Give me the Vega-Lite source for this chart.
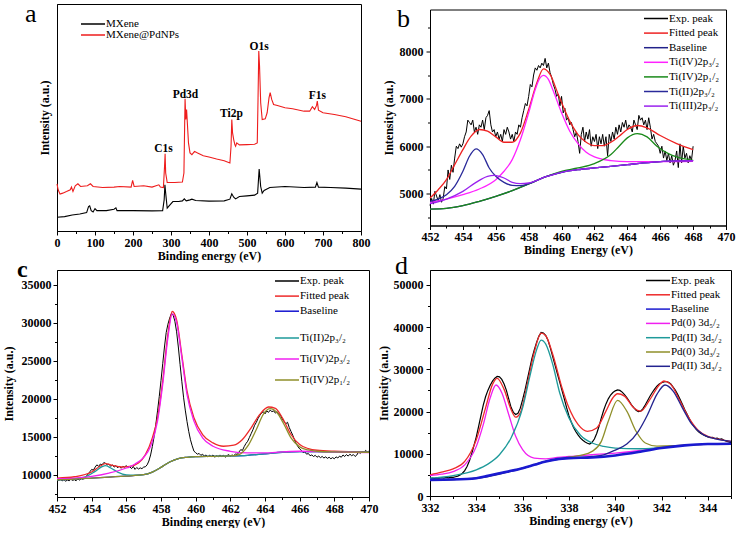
{
"$schema": "https://vega.github.io/schema/vega-lite/v6.json",
"autosize": {"type": "pad"},
"padding": {"left": 1, "top": 0, "right": 0, "bottom": 0},
"background": "white",
"config": {
 "font": "Liberation Serif",
 "view": {"stroke": "black", "strokeWidth": 1},
 "axis": {"labelFont": "Liberation Serif", "labelFontWeight": "bold", "labelFontSize": 12, "labelColor": "black", "titleFont": "Liberation Serif", "titleFontWeight": "bold", "titleFontSize": 12, "titleColor": "black", "domainColor": "black", "domainWidth": 1, "tickColor": "black", "tickWidth": 1, "tickSize": 4, "grid": false, "labelPadding": 2, "titlePadding": 2, "labelFlush": false, "labelOverlap": false},
 "legend": {"labelFont": "Liberation Serif", "labelFontSize": 11, "labelColor": "black", "symbolType": "M-2.4,0H2.4", "symbolSize": 100, "symbolStrokeWidth": 1.5, "labelOffset": 7, "padding": 0, "rowPadding": 2, "orient": "none"}
},
"resolve": {"scale": {"color": "independent", "stroke": "independent"}, "legend": {"color": "independent", "stroke": "independent"}},
"columns": 2,
"bounds": "flush",
"align": "each",
"center": {"row": true, "column": false},
"spacing": {"row": 39, "column": 61},
"datasets": {
 "a": [
  {"s":"MXene","x":0,"y":13.7},{"s":"MXene","x":20,"y":14.3},{"s":"MXene","x":40,"y":16},{"s":"MXene","x":60,"y":17},{"s":"MXene","x":78,"y":18.3},{"s":"MXene","x":83,"y":24.3},{"s":"MXene","x":86,"y":25},{"s":"MXene","x":90,"y":20.3},{"s":"MXene","x":95,"y":19},{"s":"MXene","x":100,"y":22.3},{"s":"MXene","x":105,"y":20.3},{"s":"MXene","x":130,"y":20.3},{"s":"MXene","x":150,"y":21.7},{"s":"MXene","x":155,"y":23},{"s":"MXene","x":158,"y":20.3},{"s":"MXene","x":200,"y":20.3},{"s":"MXene","x":250,"y":20},{"s":"MXene","x":278,"y":20.3},{"s":"MXene","x":282,"y":31},{"s":"MXene","x":284,"y":46},{"s":"MXene","x":286,"y":37.7},{"s":"MXene","x":290,"y":22.7},{"s":"MXene","x":295,"y":25},{"s":"MXene","x":305,"y":29.3},{"s":"MXene","x":320,"y":29.3},{"s":"MXene","x":330,"y":30},{"s":"MXene","x":335,"y":32},{"s":"MXene","x":340,"y":30},{"s":"MXene","x":350,"y":31},{"s":"MXene","x":355,"y":31.7},{"s":"MXene","x":365,"y":30.3},{"s":"MXene","x":400,"y":29.7},{"s":"MXene","x":440,"y":30},{"s":"MXene","x":455,"y":31.7},{"s":"MXene","x":460,"y":37},{"s":"MXene","x":465,"y":33.7},{"s":"MXene","x":470,"y":32},{"s":"MXene","x":480,"y":34.3},{"s":"MXene","x":500,"y":35},{"s":"MXene","x":520,"y":35.7},{"s":"MXene","x":528,"y":37.7},{"s":"MXene","x":532,"y":61.7},{"s":"MXene","x":536,"y":44.3},{"s":"MXene","x":540,"y":37.7},{"s":"MXene","x":545,"y":40.3},{"s":"MXene","x":560,"y":43.3},{"s":"MXene","x":600,"y":44.3},{"s":"MXene","x":650,"y":43.3},{"s":"MXene","x":680,"y":43.7},{"s":"MXene","x":684,"y":48.3},{"s":"MXene","x":688,"y":43.7},{"s":"MXene","x":720,"y":43.3},{"s":"MXene","x":760,"y":42.7},{"s":"MXene","x":800,"y":41.7},
  {"s":"MXene@PdNPs","x":0,"y":47},{"s":"MXene@PdNPs","x":3,"y":41},{"s":"MXene@PdNPs","x":8,"y":36.7},{"s":"MXene@PdNPs","x":15,"y":37.7},{"s":"MXene@PdNPs","x":25,"y":39.3},{"s":"MXene@PdNPs","x":35,"y":41},{"s":"MXene@PdNPs","x":38,"y":43.7},{"s":"MXene@PdNPs","x":42,"y":39.3},{"s":"MXene@PdNPs","x":48,"y":45},{"s":"MXene@PdNPs","x":55,"y":47},{"s":"MXene@PdNPs","x":62,"y":44.3},{"s":"MXene@PdNPs","x":80,"y":45},{"s":"MXene@PdNPs","x":88,"y":47},{"s":"MXene@PdNPs","x":95,"y":44.3},{"s":"MXene@PdNPs","x":120,"y":43.3},{"s":"MXene@PdNPs","x":150,"y":43.7},{"s":"MXene@PdNPs","x":165,"y":44.3},{"s":"MXene@PdNPs","x":195,"y":43.7},{"s":"MXene@PdNPs","x":199,"y":50.3},{"s":"MXene@PdNPs","x":203,"y":44.3},{"s":"MXene@PdNPs","x":228,"y":45},{"s":"MXene@PdNPs","x":250,"y":43.7},{"s":"MXene@PdNPs","x":268,"y":46},{"s":"MXene@PdNPs","x":272,"y":43.7},{"s":"MXene@PdNPs","x":280,"y":43.3},{"s":"MXene@PdNPs","x":283,"y":64.3},{"s":"MXene@PdNPs","x":284.5,"y":77},{"s":"MXene@PdNPs","x":286,"y":57.7},{"s":"MXene@PdNPs","x":290,"y":48.3},{"s":"MXene@PdNPs","x":310,"y":48.3},{"s":"MXene@PdNPs","x":330,"y":48.7},{"s":"MXene@PdNPs","x":334,"y":57.7},{"s":"MXene@PdNPs","x":337,"y":131.7},{"s":"MXene@PdNPs","x":339,"y":111},{"s":"MXene@PdNPs","x":341,"y":121},{"s":"MXene@PdNPs","x":343,"y":107.7},{"s":"MXene@PdNPs","x":346,"y":87.7},{"s":"MXene@PdNPs","x":350,"y":77.7},{"s":"MXene@PdNPs","x":355,"y":76},{"s":"MXene@PdNPs","x":362,"y":79.3},{"s":"MXene@PdNPs","x":370,"y":77.7},{"s":"MXene@PdNPs","x":385,"y":75},{"s":"MXene@PdNPs","x":400,"y":73.7},{"s":"MXene@PdNPs","x":420,"y":71.7},{"s":"MXene@PdNPs","x":440,"y":70},{"s":"MXene@PdNPs","x":455,"y":67.7},{"s":"MXene@PdNPs","x":458,"y":84.3},{"s":"MXene@PdNPs","x":460,"y":111},{"s":"MXene@PdNPs","x":462,"y":97.7},{"s":"MXene@PdNPs","x":465,"y":91},{"s":"MXene@PdNPs","x":468,"y":86},{"s":"MXene@PdNPs","x":470,"y":84.3},{"s":"MXene@PdNPs","x":473,"y":87.7},{"s":"MXene@PdNPs","x":480,"y":85.7},{"s":"MXene@PdNPs","x":500,"y":86},{"s":"MXene@PdNPs","x":520,"y":86.3},{"s":"MXene@PdNPs","x":527,"y":87.7},{"s":"MXene@PdNPs","x":529,"y":131},{"s":"MXene@PdNPs","x":531,"y":179.3},{"s":"MXene@PdNPs","x":533,"y":164.3},{"s":"MXene@PdNPs","x":536,"y":127.7},{"s":"MXene@PdNPs","x":540,"y":111},{"s":"MXene@PdNPs","x":548,"y":111.7},{"s":"MXene@PdNPs","x":553,"y":117.7},{"s":"MXene@PdNPs","x":558,"y":132.7},{"s":"MXene@PdNPs","x":561,"y":137.7},{"s":"MXene@PdNPs","x":565,"y":131},{"s":"MXene@PdNPs","x":570,"y":126},{"s":"MXene@PdNPs","x":580,"y":125},{"s":"MXene@PdNPs","x":600,"y":122.7},{"s":"MXene@PdNPs","x":620,"y":121.7},{"s":"MXene@PdNPs","x":650,"y":119.3},{"s":"MXene@PdNPs","x":665,"y":119.3},{"s":"MXene@PdNPs","x":672,"y":123.7},{"s":"MXene@PdNPs","x":678,"y":121},{"s":"MXene@PdNPs","x":683,"y":125},{"s":"MXene@PdNPs","x":685,"y":129.3},{"s":"MXene@PdNPs","x":688,"y":120.3},{"s":"MXene@PdNPs","x":700,"y":117.7},{"s":"MXene@PdNPs","x":730,"y":116},{"s":"MXene@PdNPs","x":760,"y":113.7},{"s":"MXene@PdNPs","x":800,"y":109.3}
 ],
 "alab": [
  {"t":"C1s","x":280,"y":79},{"t":"Pd3d","x":338,"y":132.7},{"t":"Ti2p","x":459,"y":113.7},{"t":"O1s","x":532,"y":180},{"t":"F1s","x":685,"y":131}
 ],
 "bE": [
  {"x":452.0,"y":4750},{"x":452.1,"y":4900},{"x":452.2,"y":4780},{"x":452.3,"y":5050},{"x":452.4,"y":4950},{"x":452.5,"y":4850},{"x":452.6,"y":4980},{"x":452.7,"y":4820},{"x":452.8,"y":4900},{"x":452.9,"y":5150},
  {"x":453.0,"y":5100},{"x":453.1,"y":5500},{"x":453.2,"y":5300},{"x":453.3,"y":5600},{"x":453.4,"y":5450},{"x":453.5,"y":5750},{"x":453.6,"y":6000},{"x":453.7,"y":5950},{"x":453.8,"y":6050},{"x":453.9,"y":5980},
  {"x":454.0,"y":6050},{"x":454.1,"y":6200},{"x":454.2,"y":6300},{"x":454.3,"y":6550},{"x":454.4,"y":6500},{"x":454.5,"y":6450},{"x":454.6,"y":6550},{"x":454.7,"y":6300},{"x":454.8,"y":6400},{"x":454.9,"y":6250},
  {"x":455.0,"y":6450},{"x":455.1,"y":6400},{"x":455.2,"y":6550},{"x":455.3,"y":6350},{"x":455.4,"y":6600},{"x":455.5,"y":6650},{"x":455.6,"y":6750},{"x":455.7,"y":6450},{"x":455.8,"y":6300},{"x":455.9,"y":6350},
  {"x":456.0,"y":6200},{"x":456.1,"y":6300},{"x":456.2,"y":6150},{"x":456.3,"y":6250},{"x":456.4,"y":6100},{"x":456.5,"y":6350},{"x":456.6,"y":6250},{"x":456.7,"y":6400},{"x":456.8,"y":6300},{"x":456.9,"y":6150},
  {"x":457.0,"y":6250},{"x":457.1,"y":6100},{"x":457.2,"y":6300},{"x":457.3,"y":6250},{"x":457.4,"y":6450},{"x":457.5,"y":6400},{"x":457.6,"y":6600},{"x":457.7,"y":6750},{"x":457.8,"y":6900},{"x":457.9,"y":6850},
  {"x":458.0,"y":7050},{"x":458.1,"y":7300},{"x":458.2,"y":7250},{"x":458.3,"y":7500},{"x":458.4,"y":7650},{"x":458.5,"y":7600},{"x":458.6,"y":7700},{"x":458.7,"y":7650},{"x":458.8,"y":7750},{"x":458.9,"y":7700},
  {"x":459.0,"y":7850},{"x":459.1,"y":7650},{"x":459.2,"y":7750},{"x":459.3,"y":7550},{"x":459.4,"y":7450},{"x":459.5,"y":7300},{"x":459.6,"y":7200},{"x":459.7,"y":7050},{"x":459.8,"y":7100},{"x":459.9,"y":6850},
  {"x":460.0,"y":7050},{"x":460.1,"y":6700},{"x":460.2,"y":6800},{"x":460.3,"y":6550},{"x":460.4,"y":6600},{"x":460.5,"y":6450},{"x":460.6,"y":6500},{"x":460.7,"y":6350},{"x":460.8,"y":6200},{"x":460.9,"y":6300},
  {"x":461.0,"y":6100},{"x":461.1,"y":5850},{"x":461.2,"y":6250},{"x":461.3,"y":6400},{"x":461.4,"y":6100},{"x":461.5,"y":6300},{"x":461.6,"y":6150},{"x":461.7,"y":6350},{"x":461.8,"y":6000},{"x":461.9,"y":6200},
  {"x":462.0,"y":6100},{"x":462.1,"y":6250},{"x":462.2,"y":5950},{"x":462.3,"y":6200},{"x":462.4,"y":6050},{"x":462.5,"y":6250},{"x":462.6,"y":6000},{"x":462.7,"y":6200},{"x":462.8,"y":5800},{"x":462.9,"y":6250},
  {"x":463.0,"y":6100},{"x":463.1,"y":6300},{"x":463.2,"y":6150},{"x":463.3,"y":6400},{"x":463.4,"y":6250},{"x":463.5,"y":6450},{"x":463.6,"y":6300},{"x":463.7,"y":6500},{"x":463.8,"y":6400},{"x":463.9,"y":6550},
  {"x":464.0,"y":6350},{"x":464.1,"y":6450},{"x":464.2,"y":6400},{"x":464.3,"y":6300},{"x":464.4,"y":6550},{"x":464.5,"y":6450},{"x":464.6,"y":6350},{"x":464.7,"y":6650},{"x":464.8,"y":6550},{"x":464.9,"y":6600},
  {"x":465.0,"y":6450},{"x":465.1,"y":6550},{"x":465.2,"y":6350},{"x":465.3,"y":6600},{"x":465.4,"y":6400},{"x":465.5,"y":6150},{"x":465.6,"y":6250},{"x":465.7,"y":6100},{"x":465.8,"y":6050},{"x":465.9,"y":6000},
  {"x":466.0,"y":5850},{"x":466.1,"y":6000},{"x":466.2,"y":5750},{"x":466.3,"y":5900},{"x":466.4,"y":5700},{"x":466.5,"y":5850},{"x":466.6,"y":5650},{"x":466.7,"y":5800},{"x":466.8,"y":5600},{"x":466.9,"y":5700},
  {"x":467.0,"y":5900},{"x":467.1,"y":5550},{"x":467.2,"y":6050},{"x":467.3,"y":5650},{"x":467.4,"y":6000},{"x":467.5,"y":5750},{"x":467.6,"y":5850},{"x":467.7,"y":5650},{"x":467.8,"y":5800},{"x":467.9,"y":5700},
  {"x":468.0,"y":6000}
 ],
 "bF": [
  {"s":"Fitted peak","x":452,"y":4908},{"s":"Fitted peak","x":452.5,"y":5084},{"s":"Fitted peak","x":453,"y":5296},{"s":"Fitted peak","x":453.5,"y":5612},{"s":"Fitted peak","x":454,"y":5929},{"s":"Fitted peak","x":454.5,"y":6211},{"s":"Fitted peak","x":455,"y":6352},{"s":"Fitted peak","x":455.5,"y":6316},{"s":"Fitted peak","x":456,"y":6197},{"s":"Fitted peak","x":456.5,"y":6084},{"s":"Fitted peak","x":457,"y":6084},{"s":"Fitted peak","x":457.5,"y":6281},{"s":"Fitted peak","x":458,"y":6774},{"s":"Fitted peak","x":458.5,"y":7337},{"s":"Fitted peak","x":458.9,"y":7630},{"s":"Fitted peak","x":459.3,"y":7514},{"s":"Fitted peak","x":459.8,"y":7091},{"s":"Fitted peak","x":460.5,"y":6528},{"s":"Fitted peak","x":461,"y":6246},{"s":"Fitted peak","x":461.5,"y":6084},{"s":"Fitted peak","x":462,"y":6014},{"s":"Fitted peak","x":462.5,"y":6014},{"s":"Fitted peak","x":463,"y":6084},{"s":"Fitted peak","x":463.5,"y":6211},{"s":"Fitted peak","x":464,"y":6352},{"s":"Fitted peak","x":464.6,"y":6436},{"s":"Fitted peak","x":465.2,"y":6387},{"s":"Fitted peak","x":466,"y":6225},{"s":"Fitted peak","x":467,"y":6056},{"s":"Fitted peak","x":468,"y":5929},
  {"s":"Baseline","x":452,"y":4676},{"s":"Baseline","x":453,"y":4690},{"s":"Baseline","x":454,"y":4747},{"s":"Baseline","x":455,"y":4838},{"s":"Baseline","x":456,"y":4944},{"s":"Baseline","x":457,"y":5063},{"s":"Baseline","x":458,"y":5204},{"s":"Baseline","x":459,"y":5352},{"s":"Baseline","x":460,"y":5451},{"s":"Baseline","x":461,"y":5507},{"s":"Baseline","x":462,"y":5542},{"s":"Baseline","x":463,"y":5577},{"s":"Baseline","x":464,"y":5612},{"s":"Baseline","x":465,"y":5648},{"s":"Baseline","x":466,"y":5676},{"s":"Baseline","x":467,"y":5690},{"s":"Baseline","x":468,"y":5697},
  {"s":"Ti(IV)2p₃/₂","x":452,"y":4817},{"s":"Ti(IV)2p₃/₂","x":453,"y":4887},{"s":"Ti(IV)2p₃/₂","x":454,"y":4979},{"s":"Ti(IV)2p₃/₂","x":455,"y":5099},{"s":"Ti(IV)2p₃/₂","x":456,"y":5296},{"s":"Ti(IV)2p₃/₂","x":456.5,"y":5472},{"s":"Ti(IV)2p₃/₂","x":457,"y":5718},{"s":"Ti(IV)2p₃/₂","x":457.5,"y":6140},{"s":"Ti(IV)2p₃/₂","x":458,"y":6704},{"s":"Ti(IV)2p₃/₂","x":458.4,"y":7196},{"s":"Ti(IV)2p₃/₂","x":458.7,"y":7443},{"s":"Ti(IV)2p₃/₂","x":458.9,"y":7492},{"s":"Ti(IV)2p₃/₂","x":459.2,"y":7408},{"s":"Ti(IV)2p₃/₂","x":459.5,"y":7161},{"s":"Ti(IV)2p₃/₂","x":460,"y":6704},{"s":"Ti(IV)2p₃/₂","x":460.5,"y":6316},{"s":"Ti(IV)2p₃/₂","x":461,"y":6056},{"s":"Ti(IV)2p₃/₂","x":461.5,"y":5873},{"s":"Ti(IV)2p₃/₂","x":462,"y":5774},{"s":"Ti(IV)2p₃/₂","x":463,"y":5697},{"s":"Ti(IV)2p₃/₂","x":464,"y":5676},{"s":"Ti(IV)2p₃/₂","x":466,"y":5676},{"s":"Ti(IV)2p₃/₂","x":468,"y":5683},
  {"s":"Ti(IV)2p₁/₂","x":452,"y":4676},{"s":"Ti(IV)2p₁/₂","x":453,"y":4690},{"s":"Ti(IV)2p₁/₂","x":454,"y":4747},{"s":"Ti(IV)2p₁/₂","x":455,"y":4838},{"s":"Ti(IV)2p₁/₂","x":456,"y":4944},{"s":"Ti(IV)2p₁/₂","x":457,"y":5063},{"s":"Ti(IV)2p₁/₂","x":458,"y":5204},{"s":"Ti(IV)2p₁/₂","x":459,"y":5352},{"s":"Ti(IV)2p₁/₂","x":460,"y":5472},{"s":"Ti(IV)2p₁/₂","x":461,"y":5542},{"s":"Ti(IV)2p₁/₂","x":462,"y":5634},{"s":"Ti(IV)2p₁/₂","x":463,"y":5824},{"s":"Ti(IV)2p₁/₂","x":463.5,"y":6000},{"s":"Ti(IV)2p₁/₂","x":464,"y":6176},{"s":"Ti(IV)2p₁/₂","x":464.6,"y":6267},{"s":"Ti(IV)2p₁/₂","x":465.2,"y":6196},{"s":"Ti(IV)2p₁/₂","x":465.8,"y":6000},{"s":"Ti(IV)2p₁/₂","x":466.5,"y":5845},{"s":"Ti(IV)2p₁/₂","x":467,"y":5774},{"s":"Ti(IV)2p₁/₂","x":468,"y":5704},
  {"s":"Ti(II)2p₃/₂","x":452,"y":4838},{"s":"Ti(II)2p₃/₂","x":452.5,"y":4887},{"s":"Ti(II)2p₃/₂","x":453,"y":4979},{"s":"Ti(II)2p₃/₂","x":453.5,"y":5155},{"s":"Ti(II)2p₃/₂","x":454,"y":5472},{"s":"Ti(II)2p₃/₂","x":454.4,"y":5788},{"s":"Ti(II)2p₃/₂","x":454.8,"y":5943},{"s":"Ti(II)2p₃/₂","x":455.2,"y":5824},{"s":"Ti(II)2p₃/₂","x":455.6,"y":5542},{"s":"Ti(II)2p₃/₂","x":456,"y":5366},{"s":"Ti(II)2p₃/₂","x":456.5,"y":5239},{"s":"Ti(II)2p₃/₂","x":457,"y":5176},{"s":"Ti(II)2p₃/₂","x":457.5,"y":5169},{"s":"Ti(II)2p₃/₂","x":458,"y":5211},{"s":"Ti(II)2p₃/₂","x":459,"y":5352},{"s":"Ti(II)2p₃/₂","x":460,"y":5451},{"s":"Ti(II)2p₃/₂","x":461,"y":5507},{"s":"Ti(II)2p₃/₂","x":462,"y":5542},{"s":"Ti(II)2p₃/₂","x":463,"y":5577},{"s":"Ti(II)2p₃/₂","x":464,"y":5612},{"s":"Ti(II)2p₃/₂","x":465,"y":5648},{"s":"Ti(II)2p₃/₂","x":466,"y":5676},{"s":"Ti(II)2p₃/₂","x":467,"y":5690},{"s":"Ti(II)2p₃/₂","x":468,"y":5697},
  {"s":"Ti(III)2p₃/₂","x":452,"y":4789},{"s":"Ti(III)2p₃/₂","x":453,"y":4887},{"s":"Ti(III)2p₃/₂","x":454,"y":5049},{"s":"Ti(III)2p₃/₂","x":454.8,"y":5239},{"s":"Ti(III)2p₃/₂","x":455.5,"y":5366},{"s":"Ti(III)2p₃/₂","x":455.9,"y":5387},{"s":"Ti(III)2p₃/₂","x":456.5,"y":5331},{"s":"Ti(III)2p₃/₂","x":457,"y":5239},{"s":"Ti(III)2p₃/₂","x":457.5,"y":5211},{"s":"Ti(III)2p₃/₂","x":458,"y":5225},{"s":"Ti(III)2p₃/₂","x":459,"y":5352},{"s":"Ti(III)2p₃/₂","x":460,"y":5451},{"s":"Ti(III)2p₃/₂","x":461,"y":5507},{"s":"Ti(III)2p₃/₂","x":462,"y":5542},{"s":"Ti(III)2p₃/₂","x":463,"y":5577},{"s":"Ti(III)2p₃/₂","x":464,"y":5612},{"s":"Ti(III)2p₃/₂","x":465,"y":5648},{"s":"Ti(III)2p₃/₂","x":466,"y":5676},{"s":"Ti(III)2p₃/₂","x":467,"y":5690},{"s":"Ti(III)2p₃/₂","x":468,"y":5697}
 ],
 "cE": [
  {"x":452.0,"y":9300},{"x":452.1,"y":9250},{"x":452.2,"y":9400},{"x":452.3,"y":9200},{"x":452.4,"y":9350},{"x":452.5,"y":9150},{"x":452.6,"y":9300},{"x":452.7,"y":9200},{"x":452.8,"y":9400},{"x":452.9,"y":9250},
  {"x":453.0,"y":9350},{"x":453.1,"y":9200},{"x":453.2,"y":9450},{"x":453.3,"y":9300},{"x":453.4,"y":9500},{"x":453.5,"y":9400},{"x":453.6,"y":9600},{"x":453.7,"y":9800},{"x":453.8,"y":10100},{"x":453.9,"y":10400},
  {"x":454.0,"y":10700},{"x":454.1,"y":10600},{"x":454.2,"y":11000},{"x":454.3,"y":11300},{"x":454.4,"y":11100},{"x":454.5,"y":11400},{"x":454.6,"y":11300},{"x":454.7,"y":11600},{"x":454.8,"y":11500},{"x":454.9,"y":11300},
  {"x":455.0,"y":11400},{"x":455.1,"y":11100},{"x":455.2,"y":11300},{"x":455.3,"y":11000},{"x":455.4,"y":11200},{"x":455.5,"y":10900},{"x":455.6,"y":11150},{"x":455.7,"y":10850},{"x":455.8,"y":11100},{"x":455.9,"y":11000},
  {"x":456.0,"y":11200},{"x":456.1,"y":10900},{"x":456.2,"y":11050},{"x":456.3,"y":10800},{"x":456.4,"y":11100},{"x":456.5,"y":10700},{"x":456.6,"y":10950},{"x":456.7,"y":10750},{"x":456.8,"y":10900},{"x":456.9,"y":10800},
  {"x":457.0,"y":11000},{"x":457.1,"y":11050},{"x":457.2,"y":11300},{"x":457.3,"y":11800},{"x":457.4,"y":12600},{"x":457.5,"y":13700},{"x":457.6,"y":15000},{"x":457.7,"y":16600},{"x":457.8,"y":18400},{"x":457.9,"y":20300},
  {"x":458.0,"y":22400},{"x":458.1,"y":24600},{"x":458.2,"y":26800},{"x":458.3,"y":28700},{"x":458.4,"y":29800},{"x":458.5,"y":30600},{"x":458.6,"y":31200},{"x":458.7,"y":31000},{"x":458.8,"y":30200},{"x":458.9,"y":28800},
  {"x":459.0,"y":26800},{"x":459.1,"y":24500},{"x":459.2,"y":22300},{"x":459.3,"y":20200},{"x":459.4,"y":18500},{"x":459.5,"y":17000},{"x":459.6,"y":15700},{"x":459.7,"y":14600},{"x":459.8,"y":13800},{"x":459.9,"y":13100},
  {"x":460.0,"y":12900},{"x":460.1,"y":12700},{"x":460.2,"y":12800},{"x":460.3,"y":12550},{"x":460.4,"y":12700},{"x":460.5,"y":12450},{"x":460.6,"y":12600},{"x":460.7,"y":12350},{"x":460.8,"y":12550},{"x":460.9,"y":12400},
  {"x":461.0,"y":12600},{"x":461.1,"y":12300},{"x":461.2,"y":12500},{"x":461.3,"y":12350},{"x":461.4,"y":12600},{"x":461.5,"y":12400},{"x":461.6,"y":12550},{"x":461.7,"y":12300},{"x":461.8,"y":12500},{"x":461.9,"y":12650},
  {"x":462.0,"y":12450},{"x":462.1,"y":12600},{"x":462.2,"y":12500},{"x":462.3,"y":12750},{"x":462.4,"y":12650},{"x":462.5,"y":13000},{"x":462.6,"y":13300},{"x":462.7,"y":13200},{"x":462.8,"y":13700},{"x":462.9,"y":14100},
  {"x":463.0,"y":14400},{"x":463.1,"y":14900},{"x":463.2,"y":15400},{"x":463.3,"y":15900},{"x":463.4,"y":16500},{"x":463.5,"y":16900},{"x":463.6,"y":17400},{"x":463.7,"y":17800},{"x":463.8,"y":18100},{"x":463.9,"y":18300},
  {"x":464.0,"y":18000},{"x":464.1,"y":18400},{"x":464.2,"y":18200},{"x":464.3,"y":18500},{"x":464.4,"y":18300},{"x":464.5,"y":18400},{"x":464.6,"y":18100},{"x":464.7,"y":18300},{"x":464.8,"y":17900},{"x":464.9,"y":17800},
  {"x":465.0,"y":17300},{"x":465.1,"y":17000},{"x":465.2,"y":16700},{"x":465.3,"y":16900},{"x":465.4,"y":16200},{"x":465.5,"y":15700},{"x":465.6,"y":15200},{"x":465.7,"y":14600},{"x":465.8,"y":14100},{"x":465.9,"y":13700},
  {"x":466.0,"y":13400},{"x":466.1,"y":13200},{"x":466.2,"y":12900},{"x":466.3,"y":13000},{"x":466.4,"y":12700},{"x":466.5,"y":12800},{"x":466.6,"y":12500},{"x":466.7,"y":12600},{"x":466.8,"y":12400},{"x":466.9,"y":12550},
  {"x":467.0,"y":12300},{"x":467.1,"y":12450},{"x":467.2,"y":12250},{"x":467.3,"y":12400},{"x":467.4,"y":12200},{"x":467.5,"y":12350},{"x":467.6,"y":12150},{"x":467.7,"y":12300},{"x":467.8,"y":12100},{"x":467.9,"y":12250},
  {"x":468.0,"y":12100},{"x":468.1,"y":12350},{"x":468.2,"y":12200},{"x":468.3,"y":12450},{"x":468.4,"y":12300},{"x":468.5,"y":12600},{"x":468.6,"y":12400},{"x":468.7,"y":12650},{"x":468.8,"y":12450},{"x":468.9,"y":12700},
  {"x":469.0,"y":12500},{"x":469.1,"y":12650},{"x":469.2,"y":12400},{"x":469.3,"y":12600},{"x":469.4,"y":13000},{"x":469.5,"y":12800},{"x":469.6,"y":13100},{"x":469.7,"y":12900},{"x":469.8,"y":13200},{"x":469.9,"y":13000},
  {"x":470.0,"y":13100}
 ],
 "cF": [
  {"s":"Fitted peak","x":452,"y":9559},{"s":"Fitted peak","x":453,"y":9735},{"s":"Fitted peak","x":454,"y":10353},{"s":"Fitted peak","x":454.5,"y":11146},{"s":"Fitted peak","x":454.8,"y":11455},{"s":"Fitted peak","x":455.2,"y":11234},{"s":"Fitted peak","x":455.7,"y":11014},{"s":"Fitted peak","x":456.2,"y":11102},{"s":"Fitted peak","x":456.7,"y":11543},{"s":"Fitted peak","x":457.1,"y":12645},{"s":"Fitted peak","x":457.5,"y":14850},{"s":"Fitted peak","x":457.8,"y":17495},{"s":"Fitted peak","x":458.1,"y":22345},{"s":"Fitted peak","x":458.4,"y":28518},{"s":"Fitted peak","x":458.65,"y":31472},{"s":"Fitted peak","x":458.9,"y":30370},{"s":"Fitted peak","x":459.2,"y":25784},{"s":"Fitted peak","x":459.5,"y":21022},{"s":"Fitted peak","x":459.9,"y":17495},{"s":"Fitted peak","x":460.4,"y":15291},{"s":"Fitted peak","x":461,"y":14188},{"s":"Fitted peak","x":461.6,"y":13748},{"s":"Fitted peak","x":462.2,"y":13880},{"s":"Fitted peak","x":462.7,"y":14630},{"s":"Fitted peak","x":463.2,"y":16173},{"s":"Fitted peak","x":463.7,"y":17936},{"s":"Fitted peak","x":464.2,"y":18906},{"s":"Fitted peak","x":464.6,"y":18730},{"s":"Fitted peak","x":465,"y":17495},{"s":"Fitted peak","x":465.5,"y":15291},{"s":"Fitted peak","x":466,"y":13968},{"s":"Fitted peak","x":466.5,"y":13439},{"s":"Fitted peak","x":467,"y":13219},{"s":"Fitted peak","x":468,"y":13086},{"s":"Fitted peak","x":470,"y":12998},
  {"s":"Baseline","x":452,"y":9339},{"s":"Baseline","x":453,"y":9427},{"s":"Baseline","x":454,"y":9559},{"s":"Baseline","x":455,"y":9691},{"s":"Baseline","x":456,"y":9824},{"s":"Baseline","x":457,"y":10000},{"s":"Baseline","x":457.5,"y":10353},{"s":"Baseline","x":458,"y":10970},{"s":"Baseline","x":458.5,"y":11675},{"s":"Baseline","x":459,"y":12116},{"s":"Baseline","x":459.5,"y":12293},{"s":"Baseline","x":460,"y":12381},{"s":"Baseline","x":461,"y":12425},{"s":"Baseline","x":462,"y":12469},{"s":"Baseline","x":463,"y":12557},{"s":"Baseline","x":464,"y":12734},{"s":"Baseline","x":465,"y":12954},{"s":"Baseline","x":466,"y":13042},{"s":"Baseline","x":467,"y":13042},{"s":"Baseline","x":468,"y":12998},{"s":"Baseline","x":470,"y":12954}
 ],
 "cC": [
  {"s":"Ti(II)2p₃/₂","x":452,"y":9339},{"s":"Ti(II)2p₃/₂","x":453,"y":9471},{"s":"Ti(II)2p₃/₂","x":453.7,"y":9780},{"s":"Ti(II)2p₃/₂","x":454.2,"y":10441},{"s":"Ti(II)2p₃/₂","x":454.6,"y":11058},{"s":"Ti(II)2p₃/₂","x":454.8,"y":11190},{"s":"Ti(II)2p₃/₂","x":455.1,"y":10882},{"s":"Ti(II)2p₃/₂","x":455.5,"y":10353},{"s":"Ti(II)2p₃/₂","x":456,"y":9980},{"s":"Ti(II)2p₃/₂","x":456.5,"y":9930},{"s":"Ti(II)2p₃/₂","x":457,"y":10010},{"s":"Ti(II)2p₃/₂","x":457.5,"y":10353},{"s":"Ti(II)2p₃/₂","x":458,"y":10970},{"s":"Ti(II)2p₃/₂","x":458.5,"y":11675},{"s":"Ti(II)2p₃/₂","x":459,"y":12116},{"s":"Ti(II)2p₃/₂","x":459.5,"y":12293},{"s":"Ti(II)2p₃/₂","x":460,"y":12381},{"s":"Ti(II)2p₃/₂","x":461,"y":12425},{"s":"Ti(II)2p₃/₂","x":462,"y":12469},{"s":"Ti(II)2p₃/₂","x":463,"y":12557},{"s":"Ti(II)2p₃/₂","x":464,"y":12734},{"s":"Ti(II)2p₃/₂","x":465,"y":12954},{"s":"Ti(II)2p₃/₂","x":466,"y":13042},{"s":"Ti(II)2p₃/₂","x":467,"y":13042},{"s":"Ti(II)2p₃/₂","x":468,"y":12998},{"s":"Ti(II)2p₃/₂","x":470,"y":12954},
  {"s":"Ti(IV)2p₃/₂","x":452,"y":9471},{"s":"Ti(IV)2p₃/₂","x":453,"y":9559},{"s":"Ti(IV)2p₃/₂","x":454,"y":9780},{"s":"Ti(IV)2p₃/₂","x":455,"y":10220},{"s":"Ti(IV)2p₃/₂","x":456,"y":10882},{"s":"Ti(IV)2p₃/₂","x":456.5,"y":11411},{"s":"Ti(IV)2p₃/₂","x":457,"y":12293},{"s":"Ti(IV)2p₃/₂","x":457.4,"y":13748},{"s":"Ti(IV)2p₃/₂","x":457.8,"y":17054},{"s":"Ti(IV)2p₃/₂","x":458.1,"y":21904},{"s":"Ti(IV)2p₃/₂","x":458.4,"y":28077},{"s":"Ti(IV)2p₃/₂","x":458.65,"y":31163},{"s":"Ti(IV)2p₃/₂","x":458.9,"y":30061},{"s":"Ti(IV)2p₃/₂","x":459.2,"y":25431},{"s":"Ti(IV)2p₃/₂","x":459.5,"y":20582},{"s":"Ti(IV)2p₃/₂","x":459.9,"y":17054},{"s":"Ti(IV)2p₃/₂","x":460.4,"y":14850},{"s":"Ti(IV)2p₃/₂","x":461,"y":13748},{"s":"Ti(IV)2p₃/₂","x":462,"y":13086},{"s":"Ti(IV)2p₃/₂","x":463,"y":12866},{"s":"Ti(IV)2p₃/₂","x":464,"y":12866},{"s":"Ti(IV)2p₃/₂","x":465,"y":12998},{"s":"Ti(IV)2p₃/₂","x":466,"y":13086},{"s":"Ti(IV)2p₃/₂","x":468,"y":12998},{"s":"Ti(IV)2p₃/₂","x":470,"y":12910},
  {"s":"Ti(IV)2p₁/₂","x":452,"y":9339},{"s":"Ti(IV)2p₁/₂","x":453,"y":9427},{"s":"Ti(IV)2p₁/₂","x":454,"y":9559},{"s":"Ti(IV)2p₁/₂","x":455,"y":9691},{"s":"Ti(IV)2p₁/₂","x":456,"y":9824},{"s":"Ti(IV)2p₁/₂","x":457,"y":10000},{"s":"Ti(IV)2p₁/₂","x":457.5,"y":10353},{"s":"Ti(IV)2p₁/₂","x":458,"y":10970},{"s":"Ti(IV)2p₁/₂","x":458.5,"y":11675},{"s":"Ti(IV)2p₁/₂","x":459,"y":12116},{"s":"Ti(IV)2p₁/₂","x":459.5,"y":12293},{"s":"Ti(IV)2p₁/₂","x":460,"y":12381},{"s":"Ti(IV)2p₁/₂","x":461,"y":12425},{"s":"Ti(IV)2p₁/₂","x":462,"y":12469},{"s":"Ti(IV)2p₁/₂","x":462.5,"y":12645},{"s":"Ti(IV)2p₁/₂","x":463,"y":13748},{"s":"Ti(IV)2p₁/₂","x":463.5,"y":15952},{"s":"Ti(IV)2p₁/₂","x":463.9,"y":17936},{"s":"Ti(IV)2p₁/₂","x":464.3,"y":18686},{"s":"Ti(IV)2p₁/₂","x":464.7,"y":18157},{"s":"Ti(IV)2p₁/₂","x":465.1,"y":16614},{"s":"Ti(IV)2p₁/₂","x":465.5,"y":14850},{"s":"Ti(IV)2p₁/₂","x":466,"y":13660},{"s":"Ti(IV)2p₁/₂","x":466.5,"y":13263},{"s":"Ti(IV)2p₁/₂","x":467,"y":13086},{"s":"Ti(IV)2p₁/₂","x":468,"y":12998},{"s":"Ti(IV)2p₁/₂","x":470,"y":12954}
 ],
 "dE": [
  {"x":332.0,"y":4100},{"x":332.1,"y":4250},{"x":332.2,"y":4150},{"x":332.3,"y":4300},{"x":332.4,"y":4200},{"x":332.5,"y":4350},{"x":332.6,"y":4250},{"x":332.7,"y":4400},{"x":332.8,"y":4300},{"x":332.9,"y":4450},
  {"x":333.0,"y":4400},{"x":333.1,"y":4550},{"x":333.2,"y":4700},{"x":333.3,"y":5000},{"x":333.4,"y":5400},{"x":333.5,"y":6000},{"x":333.6,"y":7000},{"x":333.7,"y":8300},{"x":333.8,"y":10000},{"x":333.9,"y":12000},
  {"x":334.0,"y":14000},{"x":334.1,"y":16500},{"x":334.2,"y":19000},{"x":334.3,"y":21500},{"x":334.4,"y":23500},{"x":334.5,"y":25000},{"x":334.6,"y":26200},{"x":334.7,"y":27200},{"x":334.8,"y":27900},{"x":334.9,"y":28300},
  {"x":335.0,"y":28200},{"x":335.1,"y":27600},{"x":335.2,"y":26500},{"x":335.3,"y":25000},{"x":335.4,"y":23000},{"x":335.5,"y":21000},{"x":335.6,"y":19800},{"x":335.7,"y":19300},{"x":335.8,"y":19600},{"x":335.9,"y":20800},
  {"x":336.0,"y":22800},{"x":336.1,"y":25000},{"x":336.2,"y":27500},{"x":336.3,"y":30000},{"x":336.4,"y":32500},{"x":336.5,"y":34500},{"x":336.6,"y":36300},{"x":336.7,"y":37800},{"x":336.8,"y":38700},{"x":336.9,"y":38600},
  {"x":337.0,"y":38000},{"x":337.1,"y":36800},{"x":337.2,"y":35000},{"x":337.3,"y":33000},{"x":337.4,"y":31000},{"x":337.5,"y":29000},{"x":337.6,"y":27000},{"x":337.7,"y":25000},{"x":337.8,"y":23000},{"x":337.9,"y":20900},
  {"x":338.0,"y":19000},{"x":338.1,"y":17500},{"x":338.2,"y":16200},{"x":338.3,"y":15200},{"x":338.4,"y":14400},{"x":338.5,"y":13700},{"x":338.6,"y":13200},{"x":338.7,"y":12800},{"x":338.8,"y":12500},{"x":338.9,"y":12300},
  {"x":339.0,"y":12700},{"x":339.1,"y":13500},{"x":339.2,"y":14800},{"x":339.3,"y":16500},{"x":339.4,"y":18500},{"x":339.5,"y":20300},{"x":339.6,"y":21800},{"x":339.7,"y":23000},{"x":339.8,"y":23900},{"x":339.9,"y":24500},
  {"x":340.0,"y":24900},{"x":340.1,"y":25100},{"x":340.2,"y":25000},{"x":340.3,"y":24600},{"x":340.4,"y":24000},{"x":340.5,"y":23300},{"x":340.6,"y":22500},{"x":340.7,"y":21600},{"x":340.8,"y":20900},{"x":340.9,"y":20300},
  {"x":341.0,"y":20000},{"x":341.1,"y":20100},{"x":341.2,"y":20700},{"x":341.3,"y":21600},{"x":341.4,"y":22600},{"x":341.5,"y":23600},{"x":341.6,"y":24500},{"x":341.7,"y":25300},{"x":341.8,"y":26000},{"x":341.9,"y":26500},
  {"x":342.0,"y":26800},{"x":342.1,"y":27000},{"x":342.2,"y":27100},{"x":342.3,"y":26900},{"x":342.4,"y":26500},{"x":342.5,"y":25800},{"x":342.6,"y":25000},{"x":342.7,"y":24000},{"x":342.8,"y":22900},{"x":342.9,"y":21700},
  {"x":343.0,"y":20500},{"x":343.1,"y":19400},{"x":343.2,"y":18300},{"x":343.3,"y":17300},{"x":343.4,"y":16500},{"x":343.5,"y":15800},{"x":343.6,"y":15200},{"x":343.7,"y":14800},{"x":343.8,"y":14500},{"x":343.9,"y":14200},
  {"x":344.0,"y":14000},{"x":344.1,"y":13800},{"x":344.2,"y":13900},{"x":344.3,"y":13600},{"x":344.4,"y":13700},{"x":344.5,"y":13400},{"x":344.6,"y":13500},{"x":344.7,"y":13200},{"x":344.8,"y":13000},{"x":344.9,"y":12800},
  {"x":345.0,"y":12600}
 ],
 "dF": [
  {"s":"Fitted peak","x":332,"y":5000},{"s":"Fitted peak","x":332.5,"y":5635},{"s":"Fitted peak","x":333,"y":6429},{"s":"Fitted peak","x":333.5,"y":8175},{"s":"Fitted peak","x":334,"y":13334},{"s":"Fitted peak","x":334.4,"y":20874},{"s":"Fitted peak","x":334.7,"y":26430},{"s":"Fitted peak","x":334.9,"y":27859},{"s":"Fitted peak","x":335.2,"y":25240},{"s":"Fitted peak","x":335.5,"y":20477},{"s":"Fitted peak","x":335.7,"y":18652},{"s":"Fitted peak","x":335.9,"y":19684},{"s":"Fitted peak","x":336.2,"y":26430},{"s":"Fitted peak","x":336.5,"y":33970},{"s":"Fitted peak","x":336.8,"y":38573},{"s":"Fitted peak","x":337,"y":37938},{"s":"Fitted peak","x":337.3,"y":33573},{"s":"Fitted peak","x":337.7,"y":25637},{"s":"Fitted peak","x":338,"y":20874},{"s":"Fitted peak","x":338.4,"y":16906},{"s":"Fitted peak","x":338.8,"y":15318},{"s":"Fitted peak","x":339.2,"y":16112},{"s":"Fitted peak","x":339.6,"y":20080},{"s":"Fitted peak","x":339.9,"y":23255},{"s":"Fitted peak","x":340.1,"y":24208},{"s":"Fitted peak","x":340.4,"y":23652},{"s":"Fitted peak","x":340.8,"y":20874},{"s":"Fitted peak","x":341.1,"y":20080},{"s":"Fitted peak","x":341.5,"y":22858},{"s":"Fitted peak","x":341.9,"y":26271},{"s":"Fitted peak","x":342.1,"y":27223},{"s":"Fitted peak","x":342.4,"y":26430},{"s":"Fitted peak","x":342.8,"y":22461},{"s":"Fitted peak","x":343.2,"y":18335},{"s":"Fitted peak","x":343.6,"y":15477},{"s":"Fitted peak","x":344,"y":14128},{"s":"Fitted peak","x":344.5,"y":13414},{"s":"Fitted peak","x":345,"y":12937},
  {"s":"Pd(0) 3d₅/₂","x":332,"y":4842},{"s":"Pd(0) 3d₅/₂","x":332.5,"y":5159},{"s":"Pd(0) 3d₅/₂","x":333,"y":5794},{"s":"Pd(0) 3d₅/₂","x":333.5,"y":7381},{"s":"Pd(0) 3d₅/₂","x":334,"y":11747},{"s":"Pd(0) 3d₅/₂","x":334.3,"y":16906},{"s":"Pd(0) 3d₅/₂","x":334.6,"y":23255},{"s":"Pd(0) 3d₅/₂","x":334.85,"y":26271},{"s":"Pd(0) 3d₅/₂","x":335.1,"y":24446},{"s":"Pd(0) 3d₅/₂","x":335.4,"y":19287},{"s":"Pd(0) 3d₅/₂","x":335.7,"y":14128},{"s":"Pd(0) 3d₅/₂","x":336,"y":10953},{"s":"Pd(0) 3d₅/₂","x":336.5,"y":8969},{"s":"Pd(0) 3d₅/₂","x":337,"y":8810},{"s":"Pd(0) 3d₅/₂","x":337.5,"y":9128},{"s":"Pd(0) 3d₅/₂","x":338,"y":9366},{"s":"Pd(0) 3d₅/₂","x":339,"y":9763},{"s":"Pd(0) 3d₅/₂","x":340,"y":10159},{"s":"Pd(0) 3d₅/₂","x":341,"y":10715},{"s":"Pd(0) 3d₅/₂","x":342,"y":11430},{"s":"Pd(0) 3d₅/₂","x":343,"y":11985},{"s":"Pd(0) 3d₅/₂","x":345,"y":12381},
  {"s":"Pd(II) 3d₅/₂","x":332,"y":4207},{"s":"Pd(II) 3d₅/₂","x":333,"y":4842},{"s":"Pd(II) 3d₅/₂","x":334,"y":6191},{"s":"Pd(II) 3d₅/₂","x":334.5,"y":7540},{"s":"Pd(II) 3d₅/₂","x":335,"y":9763},{"s":"Pd(II) 3d₅/₂","x":335.5,"y":13731},{"s":"Pd(II) 3d₅/₂","x":336,"y":20874},{"s":"Pd(II) 3d₅/₂","x":336.3,"y":28017},{"s":"Pd(II) 3d₅/₂","x":336.6,"y":34526},{"s":"Pd(II) 3d₅/₂","x":336.8,"y":36907},{"s":"Pd(II) 3d₅/₂","x":337,"y":35955},{"s":"Pd(II) 3d₅/₂","x":337.3,"y":31192},{"s":"Pd(II) 3d₅/₂","x":337.6,"y":24446},{"s":"Pd(II) 3d₅/₂","x":338,"y":18493},{"s":"Pd(II) 3d₅/₂","x":338.5,"y":14366},{"s":"Pd(II) 3d₅/₂","x":339,"y":12540},{"s":"Pd(II) 3d₅/₂","x":339.5,"y":11747},{"s":"Pd(II) 3d₅/₂","x":340,"y":11350},{"s":"Pd(II) 3d₅/₂","x":341,"y":11191},{"s":"Pd(II) 3d₅/₂","x":342,"y":11509},{"s":"Pd(II) 3d₅/₂","x":343,"y":11985},{"s":"Pd(II) 3d₅/₂","x":345,"y":12381},
  {"s":"Pd(0) 3d₃/₂","x":332,"y":3810},{"s":"Pd(0) 3d₃/₂","x":333,"y":3889},{"s":"Pd(0) 3d₃/₂","x":334,"y":4207},{"s":"Pd(0) 3d₃/₂","x":335,"y":5397},{"s":"Pd(0) 3d₃/₂","x":336,"y":6588},{"s":"Pd(0) 3d₃/₂","x":337,"y":8175},{"s":"Pd(0) 3d₃/₂","x":337.5,"y":8731},{"s":"Pd(0) 3d₃/₂","x":338,"y":9207},{"s":"Pd(0) 3d₃/₂","x":338.5,"y":9604},{"s":"Pd(0) 3d₃/₂","x":339,"y":10556},{"s":"Pd(0) 3d₃/₂","x":339.4,"y":12937},{"s":"Pd(0) 3d₃/₂","x":339.7,"y":17700},{"s":"Pd(0) 3d₃/₂","x":340.1,"y":22620},{"s":"Pd(0) 3d₃/₂","x":340.5,"y":20080},{"s":"Pd(0) 3d₃/₂","x":340.9,"y":15318},{"s":"Pd(0) 3d₃/₂","x":341.3,"y":12540},{"s":"Pd(0) 3d₃/₂","x":341.8,"y":11800},{"s":"Pd(0) 3d₃/₂","x":342.5,"y":11900},{"s":"Pd(0) 3d₃/₂","x":343,"y":12064},{"s":"Pd(0) 3d₃/₂","x":344,"y":12302},{"s":"Pd(0) 3d₃/₂","x":345,"y":12381},
  {"s":"Pd(II) 3d₃/₂","x":332,"y":3810},{"s":"Pd(II) 3d₃/₂","x":334,"y":4207},{"s":"Pd(II) 3d₃/₂","x":336,"y":6588},{"s":"Pd(II) 3d₃/₂","x":337,"y":8175},{"s":"Pd(II) 3d₃/₂","x":338,"y":8969},{"s":"Pd(II) 3d₃/₂","x":339,"y":9366},{"s":"Pd(II) 3d₃/₂","x":339.5,"y":9763},{"s":"Pd(II) 3d₃/₂","x":340,"y":10874},{"s":"Pd(II) 3d₃/₂","x":340.5,"y":12302},{"s":"Pd(II) 3d₃/₂","x":341,"y":15318},{"s":"Pd(II) 3d₃/₂","x":341.4,"y":19287},{"s":"Pd(II) 3d₃/₂","x":341.8,"y":24049},{"s":"Pd(II) 3d₃/₂","x":342.15,"y":26271},{"s":"Pd(II) 3d₃/₂","x":342.5,"y":24843},{"s":"Pd(II) 3d₃/₂","x":342.9,"y":20874},{"s":"Pd(II) 3d₃/₂","x":343.3,"y":17065},{"s":"Pd(II) 3d₃/₂","x":343.8,"y":14525},{"s":"Pd(II) 3d₃/₂","x":344.3,"y":13572},{"s":"Pd(II) 3d₃/₂","x":345,"y":12937}
 ],
 "dB": [
  {"x":332,"y":3810},{"x":333,"y":3889},{"x":334,"y":4207},{"x":334.5,"y":4762},{"x":335,"y":5397},{"x":335.5,"y":5953},{"x":336,"y":6588},{"x":336.5,"y":7381},{"x":337,"y":8175},{"x":337.5,"y":8731},{"x":338,"y":8969},{"x":339,"y":9128},{"x":340,"y":9604},{"x":341,"y":10397},{"x":342,"y":11350},{"x":343,"y":11985},{"x":344,"y":12302},{"x":345,"y":12381}
 ]
},
"concat": [
 {
  "width": 304, "height": 227,
  "title": {"text": "a", "anchor": "start", "frame": "group", "orient": "top", "baseline": "alphabetic", "offset": 0, "dx": -32, "dy": 44, "font": "Liberation Serif", "fontSize": 26, "fontWeight": "normal", "color": "black"},
  "layer": [
   {"data": {"name": "a"}, "mark": {"type": "line", "strokeWidth": 1.1, "interpolate": "linear"},
    "encoding": {
     "x": {"field": "x", "type": "quantitative", "scale": {"domain": [0, 800], "nice": false}, "axis": {"values": [0,100,200,300,400,500,600,700,800], "format": "d", "title": "Binding energy (eV)"}},
     "y": {"field": "y", "type": "quantitative", "scale": {"domain": [0, 226], "nice": false, "zero": false}, "axis": {"labels": false, "ticks": false, "title": "Intensity (a.u.)", "titlePadding": 6}},
     "color": {"field": "s", "type": "nominal", "title": null, "scale": {"domain": ["MXene", "MXene@PdNPs"], "range": ["#000000", "#ee1c1c"]}, "legend": {"title": null, "orient": "none", "legendX": 30, "legendY": 14, "rowPadding": 0}}
    }},
   {"data": {"name": "alab"}, "mark": {"type": "text", "font": "Liberation Serif", "fontWeight": "bold", "fontSize": 11.5, "baseline": "alphabetic", "align": "center", "color": "black"},
    "encoding": {
     "x": {"field": "x", "type": "quantitative", "axis": {"orient": "bottom", "values": [50,150,250,350,450,550,650,750], "labels": false, "domain": false, "title": null, "tickSize": 2.5}},
     "y": {"field": "y", "type": "quantitative", "axis": null},
     "text": {"field": "t"}
    }}
  ],
  "resolve": {"axis": {"x": "independent", "y": "independent"}}
 },
 {
  "width": 296, "height": 216,
  "title": {"text": "b", "anchor": "start", "frame": "group", "orient": "top", "baseline": "alphabetic", "offset": 0, "dx": -33, "dy": 43.5, "font": "Liberation Serif", "fontSize": 26, "fontWeight": "normal", "color": "black"},
  "layer": [
   {"data": {"name": "bE"}, "mark": {"type": "line", "strokeWidth": 1, "interpolate": "linear"},
    "encoding": {
     "x": {"field": "x", "type": "quantitative", "scale": {"domain": [452, 470], "nice": false}, "axis": {"values": [452,454,456,458,460,462,464,466,468,470], "format": "d", "title": "Binding\u00a0 Energy (eV)"}},
     "y": {"field": "y", "type": "quantitative", "scale": {"domain": [4330, 8880], "nice": false, "zero": false}, "axis": {"values": [5000,6000,7000,8000], "format": "d", "title": "Intensity (a.u.)", "labelPadding": 3, "titlePadding": 4}},
     "color": {"datum": "Exp. peak", "type": "nominal", "title": null, "scale": {"domain": ["Exp. peak", "Fitted peak", "Baseline", "Ti(IV)2p₃/₂", "Ti(IV)2p₁/₂", "Ti(II)2p₃/₂", "Ti(III)2p₃/₂"], "range": ["#000000", "#ee2222", "#22228a", "#ff22ff", "#1a8a1a", "#2a2a9a", "#9a22ee"]}, "legend": {"title": null, "orient": "none", "legendX": 220, "legendY": 3, "rowPadding": 3.6}}
    }},
   {"data": {"name": "bF"}, "mark": {"type": "line", "strokeWidth": 1.3, "interpolate": "monotone"},
    "encoding": {
     "x": {"field": "x", "type": "quantitative", "axis": {"orient": "bottom", "values": [453,455,457,459,461,463,465,467,469], "labels": false, "domain": false, "title": null, "tickSize": 2.5}},
     "y": {"field": "y", "type": "quantitative", "axis": {"orient": "left", "values": [4500,5500,6500,7500,8500], "labels": false, "domain": false, "title": null, "tickSize": 2.5}},
     "color": {"field": "s", "type": "nominal", "title": null, "legend": {"title": null, "orient": "none", "legendX": 220, "legendY": 3, "rowPadding": 3.6}}
    }}
  ],
  "resolve": {"axis": {"x": "independent", "y": "independent"}}
 },
 {
  "width": 312, "height": 227,
  "title": {"text": "c", "anchor": "start", "frame": "group", "orient": "top", "baseline": "alphabetic", "offset": 0, "dx": -40, "dy": 31, "font": "Liberation Serif", "fontSize": 24, "fontWeight": "bold", "color": "black"},
  "layer": [
   {"data": {"name": "cE"}, "mark": {"type": "line", "strokeWidth": 1, "interpolate": "linear"},
    "encoding": {
     "x": {"field": "x", "type": "quantitative", "scale": {"domain": [452, 470], "nice": false}, "axis": {"values": [452,454,456,458,460,462,464,466,468,470], "format": "d", "title": "Binding energy (eV)"}},
     "y": {"field": "y", "type": "quantitative", "scale": {"domain": [7070, 36930], "nice": false, "zero": false}, "axis": {"values": [10000,15000,20000,25000,30000,35000], "format": "d", "title": "Intensity (a.u.)", "labelPadding": 2, "titlePadding": 6}},
     "color": {"datum": "Exp. peak", "type": "nominal", "title": null, "scale": {"domain": ["Exp. peak", "Fitted peak", "Baseline"], "range": ["#000000", "#ee2a2a", "#1515d0"]}, "legend": {"title": null, "orient": "none", "legendX": 224, "legendY": 5, "rowPadding": 4.1}}
    }},
   {"data": {"name": "cF"}, "mark": {"type": "line", "strokeWidth": 1.3, "interpolate": "monotone"},
    "encoding": {
     "x": {"field": "x", "type": "quantitative", "axis": {"orient": "bottom", "values": [453,455,457,459,461,463,465,467,469], "labels": false, "domain": false, "title": null, "tickSize": 2.5}},
     "y": {"field": "y", "type": "quantitative", "axis": {"orient": "left", "values": [7500,12500,17500,22500,27500,32500], "labels": false, "domain": false, "title": null, "tickSize": 2.5}},
     "color": {"field": "s", "type": "nominal", "title": null, "legend": {"title": null, "orient": "none", "legendX": 224, "legendY": 5, "rowPadding": 4.1}}
    }},
   {"data": {"name": "cC"}, "mark": {"type": "line", "strokeWidth": 1.3, "interpolate": "monotone"},
    "encoding": {
     "x": {"field": "x", "type": "quantitative", "axis": null},
     "y": {"field": "y", "type": "quantitative", "axis": null},
     "stroke": {"field": "s", "type": "nominal", "title": null, "scale": {"domain": ["Ti(II)2p₃/₂", "Ti(IV)2p₃/₂", "Ti(IV)2p₁/₂"], "range": ["#1e9a9a", "#f020f0", "#8f8f2a"]}, "legend": {"title": null, "orient": "none", "legendX": 224, "legendY": 62, "rowPadding": 10}}
    }}
  ],
  "resolve": {"axis": {"x": "independent", "y": "independent"}}
 },
 {
  "width": 301, "height": 226,
  "title": {"text": "d", "anchor": "start", "frame": "group", "orient": "top", "baseline": "alphabetic", "offset": 0, "dx": -35, "dy": 29.5, "font": "Liberation Serif", "fontSize": 26, "fontWeight": "normal", "color": "black"},
  "layer": [
   {"data": {"name": "dE"}, "mark": {"type": "line", "strokeWidth": 1.2, "interpolate": "linear"},
    "encoding": {
     "x": {"field": "x", "type": "quantitative", "scale": {"domain": [332, 345], "nice": false}, "axis": {"values": [332,334,336,338,340,342,344], "format": "d", "title": "Binding energy (eV)"}},
     "y": {"field": "y", "type": "quantitative", "scale": {"domain": [0, 53500], "nice": false, "zero": false}, "axis": {"values": [0,10000,20000,30000,40000,50000], "format": "d", "title": "Intensity (a.u.)", "labelPadding": 3, "titlePadding": 3}},
     "color": {"datum": "Exp. peak", "type": "nominal", "title": null, "scale": {"domain": ["Exp. peak", "Fitted peak", "Baseline", "Pd(0) 3d₅/₂", "Pd(II) 3d₅/₂", "Pd(0) 3d₃/₂", "Pd(II) 3d₃/₂"], "range": ["#000000", "#ee2a2a", "#1a1ad0", "#f020f0", "#1e9a9a", "#8f8f2a", "#23238f"]}, "legend": {"title": null, "orient": "none", "legendX": 222, "legendY": 4.5, "rowPadding": 3.3}}
    }},
   {"data": {"name": "dF"}, "mark": {"type": "line", "strokeWidth": 1.3, "interpolate": "monotone"},
    "encoding": {
     "x": {"field": "x", "type": "quantitative", "axis": {"orient": "bottom", "values": [333,335,337,339,341,343,345], "labels": false, "domain": false, "title": null, "tickSize": 2.5}},
     "y": {"field": "y", "type": "quantitative", "axis": {"orient": "left", "values": [5000,15000,25000,35000,45000], "labels": false, "domain": false, "title": null, "tickSize": 2.5}},
     "color": {"field": "s", "type": "nominal", "title": null, "legend": {"title": null, "orient": "none", "legendX": 222, "legendY": 4.5, "rowPadding": 3.3}}
    }},
   {"data": {"name": "dB"}, "mark": {"type": "line", "strokeWidth": 2.6, "interpolate": "monotone"},
    "encoding": {
     "x": {"field": "x", "type": "quantitative", "axis": null},
     "y": {"field": "y", "type": "quantitative", "axis": null},
     "color": {"datum": "Baseline", "type": "nominal", "title": null, "legend": {"title": null, "orient": "none", "legendX": 222, "legendY": 4.5, "rowPadding": 3.3}}
    }}
  ],
  "resolve": {"axis": {"x": "independent", "y": "independent"}}
 }
]
}
